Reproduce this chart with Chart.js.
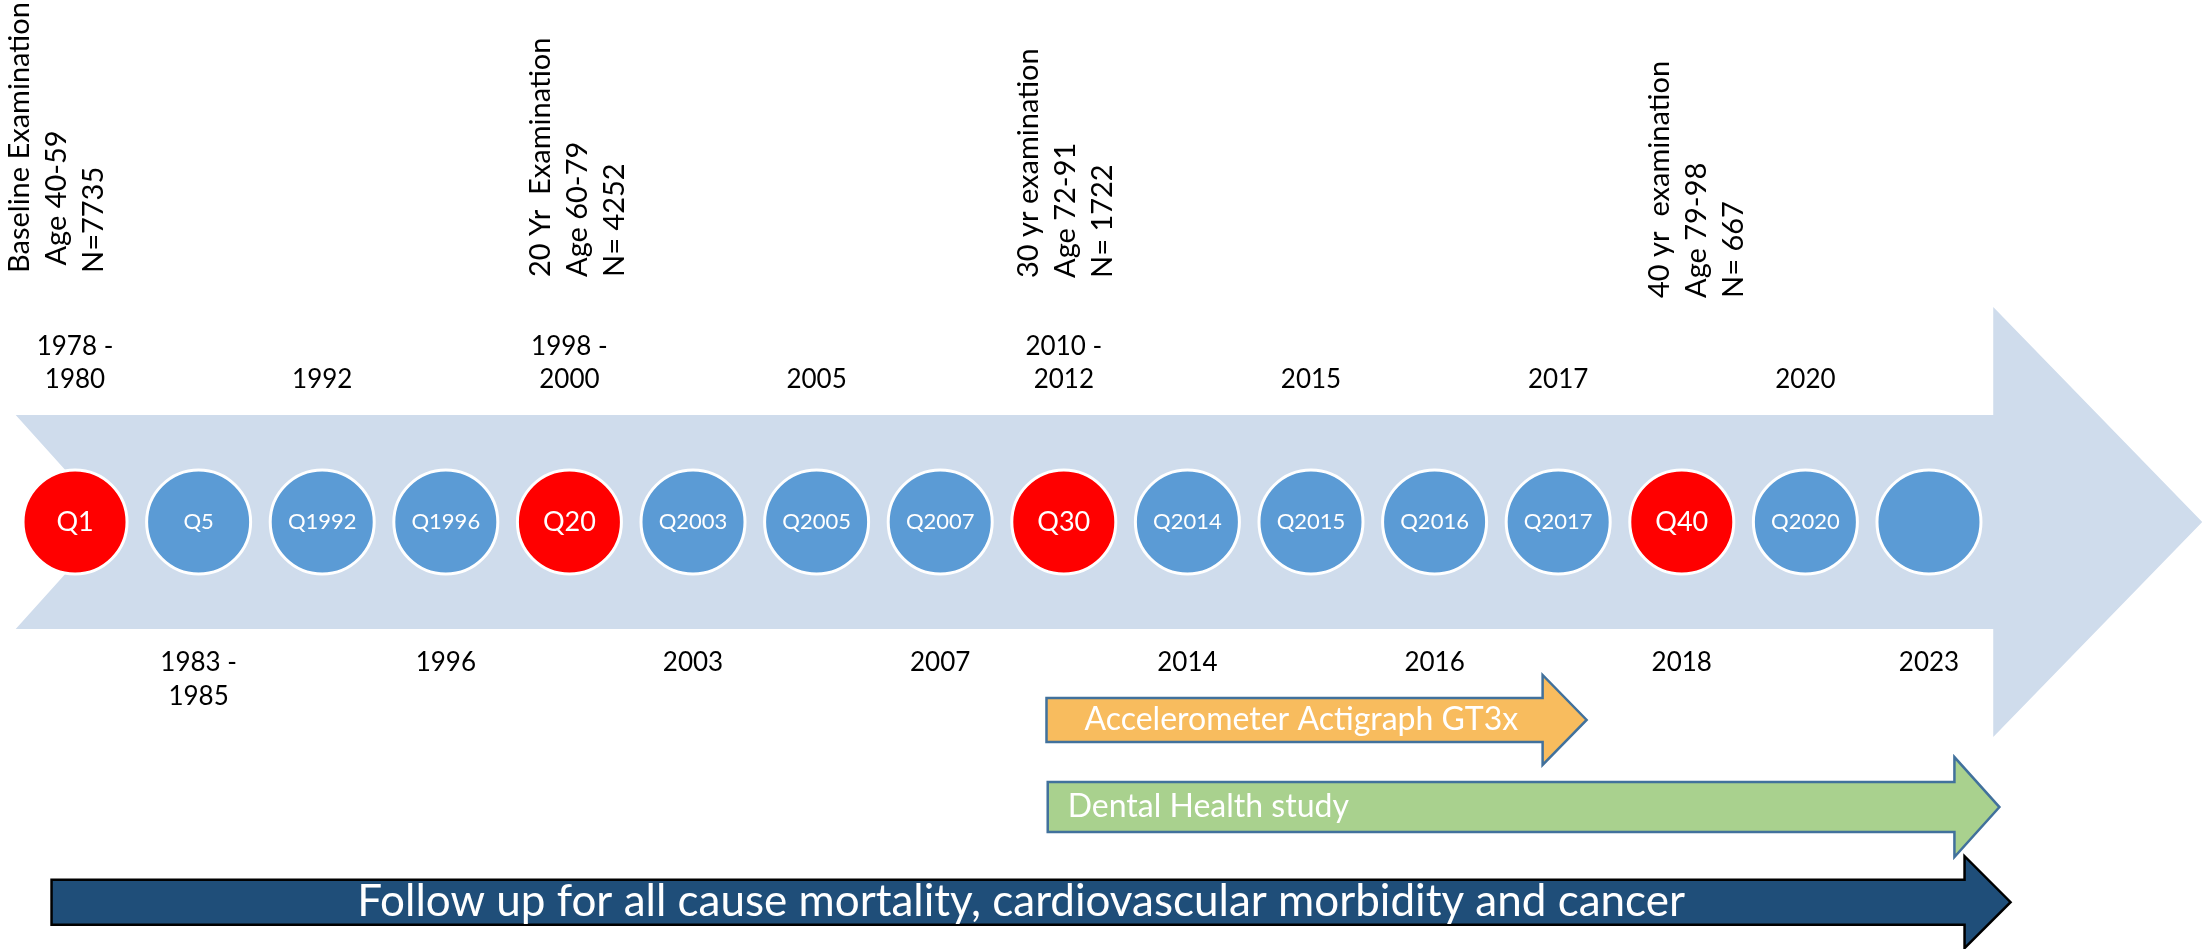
<!DOCTYPE html>
<html>
<head>
<meta charset="utf-8">
<title>Timeline</title>
<script src="https://cdn.jsdelivr.net/npm/chart.js@4/dist/chart.umd.min.js"></script>
<style>
html, body { margin: 0; padding: 0; background: #fff; }
#chart { display: block; }
</style>
</head>
<body>
<canvas id="chart" width="2202" height="949"></canvas>
<script>
// waves on the timeline, left to right
const wave_labels = ["Q1", "Q5", "Q1992", "Q1996", "Q20", "Q2003", "Q2005", "Q2007",
    "Q30", "Q2014", "Q2015", "Q2016", "Q2017", "Q40", "Q2020", ""];
const wave_years = ["1978 -\n1980", "1983 -\n1985", "1992", "1996", "1998 -\n2000", "2003", "2005", "2007",
    "2010 -\n2012", "2014", "2015", "2016", "2017", "2018", "2020", "2023"];

// the big examinations
const exam_waves = ["Q1", "Q20", "Q30", "Q40"];
const exam_notes = [
    ["Baseline Examination", " Age 40-59", "N=7735"],
    ["20 Yr  Examination", "Age 60-79", "N= 4252"],
    ["30 yr examination", "Age 72-91", "N= 1722"],
    ["40 yr  examination", "Age 79-98", "N= 667"],
];

// sub studies, start / end on the wave axis (0 = Q1 ... 15 = last wave)
const study_names = ["Accelerometer Actigraph GT3x", "Dental Health study",
    "Follow up for all cause mortality, cardiovascular morbidity and cancer"];
const study_start = [7.86, 7.87, -0.19];
const study_end = [12.23, 15.57, 15.66];
const study_lane = [-1.0, -1.44, -1.92];

const RED = "#ff0000";
const BLUE = "#5b9bd5";

// look of the sub study arrows
const study_style = [
    {fill: "#f8bc5e", stroke: "#41719c", body: 22, head: 45, head_len: 44, font: "32px Lato", align: "left", pad: 38},
    {fill: "#a9d18e", stroke: "#41719c", body: 25, head: 50, head_len: 45, font: "32px Lato", align: "left", pad: 20},
    {fill: "#1f4e79", stroke: "#000000", body: 22.5, head: 46, head_len: 46, font: "44px Lato", align: "center", pad: -10},
];
// placing of the rotated examination notes (px from circle centre)
const note_dx = [-55, -29, -35, -22];
const note_bottom = [249, 245, 244, 224];

function draw_arrow(ctx, x0, x1, yc, body, head, head_len, notch) {
    const xh = x1 - head_len;
    ctx.beginPath();
    ctx.moveTo(x0, yc - body);
    ctx.lineTo(xh, yc - body);
    ctx.lineTo(xh, yc - head);
    ctx.lineTo(x1, yc);
    ctx.lineTo(xh, yc + head);
    ctx.lineTo(xh, yc + body);
    ctx.lineTo(x0, yc + body);
    if (notch) ctx.lineTo(notch, yc);
    ctx.closePath();
}

const timeline_plugin = {
    id: "timeline",
    beforeDatasetsDraw(chart) {
        const {ctx, scales: {x, y}} = chart;
        const yc = y.getPixelForValue(0);
        const x0 = x.getPixelForValue(-0.48);
        const x1 = x.getPixelForValue(17.21);
        ctx.save();
        ctx.fillStyle = "#cfdcec";
        draw_arrow(ctx, x0, x1, yc, 107, 215, x1 - x.getPixelForValue(15.52), x.getPixelForValue(0.3));
        ctx.fill();
        ctx.restore();
    },
    afterDatasetsDraw(chart) {
        const {ctx, scales: {x, y}} = chart;
        const meta = chart.getDatasetMeta(0);
        ctx.save();

        // labels inside circles
        ctx.textAlign = "center";
        ctx.textBaseline = "middle";
        ctx.fillStyle = "#ffffff";
        meta.data.forEach((pt, i) => {
            const lbl = wave_labels[i];
            if (!lbl) return;
            ctx.font = exam_waves.includes(lbl) ? "27px Lato" : "22px Lato";
            ctx.fillText(lbl, pt.x, pt.y);
        });

        // years, above for even waves, below for odd ones
        ctx.fillStyle = "#000000";
        ctx.font = "26px Lato";
        meta.data.forEach((pt, i) => {
            const lines = wave_years[i].split("\n");
            lines.forEach((line, j) => {
                let ly;
                if (i % 2 == 0) {
                    ly = pt.y - 142 - (lines.length - 1 - j) * 33;
                } else {
                    ly = pt.y + 141 + j * 34;
                }
                ctx.fillText(line, pt.x, ly);
            });
        });

        // rotated examination notes
        ctx.font = "29px Lato";
        ctx.textAlign = "left";
        exam_waves.forEach((w, k) => {
            const pt = meta.data[wave_labels.indexOf(w)];
            exam_notes[k].forEach((line, j) => {
                ctx.save();
                ctx.translate(pt.x + note_dx[k] + j * 37, pt.y - note_bottom[k]);
                ctx.rotate(-Math.PI / 2);
                ctx.fillText(line, 0, 0);
                ctx.restore();
            });
        });

        // sub study arrows
        study_names.forEach((name, i) => {
            const st = study_style[i];
            const x0 = x.getPixelForValue(study_start[i]);
            const x1 = x.getPixelForValue(study_end[i]);
            const yc = y.getPixelForValue(study_lane[i]);
            ctx.fillStyle = st.fill;
            ctx.strokeStyle = st.stroke;
            ctx.lineWidth = 2.5;
            ctx.lineJoin = "miter";
            draw_arrow(ctx, x0, x1, yc, st.body, st.head, st.head_len);
            ctx.fill();
            ctx.stroke();

            ctx.fillStyle = "#ffffff";
            ctx.font = st.font;
            ctx.textAlign = st.align;
            ctx.textBaseline = "middle";
            const tx = st.align == "center" ? (x0 + x1) / 2 + st.pad : x0 + st.pad;
            ctx.fillText(name, tx, yc);
        });

        ctx.restore();
    },
};

const chart_canvas = document.getElementById("chart");

const chart = new Chart(chart_canvas, {
    type: "scatter",
    data: {
        datasets: [{
            data: wave_labels.map((lbl, i) => ({x: i, y: 0})),
            pointRadius: 52,
            pointHoverRadius: 52,
            pointBackgroundColor: wave_labels.map(lbl => exam_waves.includes(lbl) ? RED : BLUE),
            pointBorderColor: "#ffffff",
            pointBorderWidth: 3,
            clip: false,
        }],
    },
    options: {
        responsive: false,
        animation: false,
        events: [],
        layout: {padding: 0, autoPadding: false},
        plugins: {
            legend: {display: false},
            tooltip: {enabled: false},
        },
        scales: {
            x: {type: "linear", display: false, min: -0.607, max: 17.209},
            y: {type: "linear", display: false, min: -2.1566, max: 2.6364},
        },
    },
    plugins: [timeline_plugin],
});
</script>
</body>
</html>
